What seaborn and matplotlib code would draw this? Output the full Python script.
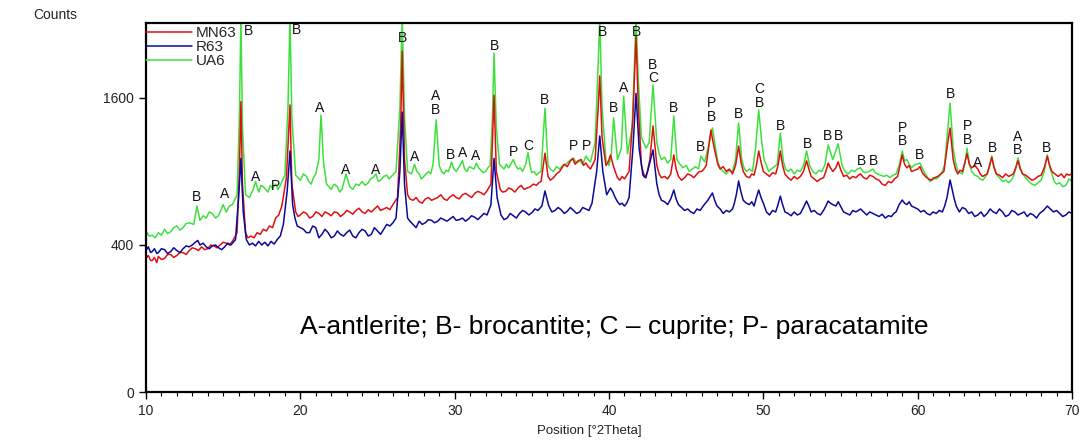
import numpy as np
import pandas as pd
import matplotlib
matplotlib.use("Agg")
import matplotlib.pyplot as plt
import seaborn as sns

# ---------------- data (2Theta, counts) ----------------
UA6 = [
    (10.0, 480), (10.2, 450), (10.4, 455), (10.6, 440), (10.8, 470), (11.0, 455),
    (11.2, 490), (11.4, 465), (11.6, 475), (11.8, 500), (12.0, 510), (12.2, 485),
    (12.4, 500), (12.6, 525), (12.8, 530), (13.1, 520), (13.3, 640), (13.5, 545),
    (13.7, 575), (13.9, 560), (14.1, 600), (14.3, 590), (14.5, 560), (14.7, 575),
    (14.85, 610), (15.0, 650), (15.2, 600), (15.4, 640), (15.6, 650), (15.9, 720),
    (16.05, 1400), (16.15, 2600), (16.25, 1300), (16.45, 720), (16.7, 700),
    (16.95, 760), (17.1, 820), (17.3, 740), (17.45, 790), (17.6, 780), (17.9, 740),
    (18.05, 790), (18.2, 770), (18.4, 800), (18.55, 760), (18.7, 790), (19.0, 870),
    (19.2, 1500), (19.33, 2600), (19.45, 1400), (19.7, 870), (20.0, 830),
    (20.2, 880), (20.4, 860), (20.55, 820), (20.7, 800), (20.85, 850), (21.0, 880),
    (21.2, 1000), (21.34, 1420), (21.5, 980), (21.7, 800), (21.85, 780), (22.0, 760),
    (22.2, 800), (22.4, 780), (22.55, 740), (22.7, 760), (22.96, 880), (23.2, 780),
    (23.4, 760), (23.6, 800), (23.8, 790), (24.0, 820), (24.2, 790), (24.4, 810),
    (24.55, 840), (24.7, 850), (24.9, 880), (25.05, 820), (25.2, 830), (25.4, 860),
    (25.6, 870), (25.75, 840), (25.9, 860), (26.05, 880), (26.2, 900),
    (26.45, 1500), (26.6, 2600), (26.75, 1400), (26.95, 900), (27.2, 880),
    (27.4, 960), (27.55, 900), (27.7, 880), (27.85, 840), (28.0, 860), (28.15, 880),
    (28.3, 900), (28.45, 880), (28.6, 960), (28.8, 1370), (29.0, 950), (29.15, 900),
    (29.3, 880), (29.45, 910), (29.6, 900), (29.8, 980), (29.95, 920), (30.1, 900),
    (30.3, 940), (30.5, 990), (30.65, 920), (30.8, 900), (30.95, 940), (31.1, 930),
    (31.25, 920), (31.4, 970), (31.55, 930), (31.7, 910), (31.85, 890), (32.0, 900),
    (32.15, 930), (32.3, 950), (32.45, 1400), (32.55, 2125), (32.7, 1300),
    (32.9, 960), (33.05, 940), (33.2, 920), (33.35, 960), (33.5, 930), (33.8, 1000),
    (33.95, 950), (34.1, 920), (34.25, 930), (34.4, 900), (34.6, 960), (34.75, 1060),
    (34.9, 940), (35.0, 890), (35.15, 900), (35.3, 870), (35.45, 890), (35.6, 900),
    (35.85, 1490), (36.05, 950), (36.2, 920), (36.4, 900), (36.6, 940), (36.8, 920),
    (37.0, 950), (37.2, 960), (37.45, 990), (37.7, 1010), (37.9, 970), (38.1, 990),
    (38.3, 960), (38.5, 1030), (38.65, 1000), (38.8, 980), (39.1, 1150),
    (39.3, 2000), (39.4, 2600), (39.55, 1500), (39.8, 1000), (40.0, 950),
    (40.15, 1050), (40.3, 1390), (40.55, 1000), (40.8, 1100), (40.95, 1620),
    (41.2, 1050), (41.5, 1300), (41.65, 2000), (41.75, 2600), (41.9, 1800),
    (42.1, 1200), (42.25, 1150), (42.4, 1100), (42.6, 1150), (42.85, 1745),
    (43.1, 1150), (43.25, 1050), (43.4, 1000), (43.6, 1020), (43.8, 970),
    (44.0, 1000), (44.2, 1410), (44.4, 1000), (44.6, 960), (44.8, 930), (45.0, 950),
    (45.2, 900), (45.4, 920), (45.6, 940), (45.8, 920), (45.95, 1030), (46.2, 980),
    (46.5, 1150), (46.7, 1290), (46.9, 1100), (47.05, 980), (47.2, 930),
    (47.4, 900), (47.6, 880), (47.8, 910), (48.0, 900), (48.2, 1000), (48.4, 1340),
    (48.6, 1000), (48.75, 930), (48.9, 900), (49.1, 920), (49.3, 900), (49.5, 1100),
    (49.7, 1472), (49.9, 1150), (50.05, 1000), (50.2, 950), (50.35, 900),
    (50.5, 920), (50.7, 940), (50.9, 960), (51.1, 1240), (51.3, 980), (51.45, 920),
    (51.6, 900), (51.8, 920), (52.0, 880), (52.2, 910), (52.4, 900), (52.6, 950),
    (52.8, 1075), (53.0, 950), (53.2, 900), (53.4, 880), (53.6, 910), (53.8, 900),
    (54.0, 960), (54.2, 1130), (54.5, 1000), (54.85, 1140), (55.1, 950),
    (55.3, 900), (55.5, 880), (55.7, 910), (55.9, 900), (56.1, 920), (56.3, 930),
    (56.45, 900), (56.6, 890), (56.85, 900), (57.1, 920), (57.25, 890), (57.4, 880),
    (57.6, 870), (57.8, 860), (58.0, 870), (58.2, 850), (58.4, 870), (58.6, 880),
    (58.8, 950), (59.0, 1075), (59.15, 990), (59.3, 1000), (59.45, 960),
    (59.6, 930), (59.75, 950), (59.9, 960), (60.15, 970), (60.4, 900), (60.6, 860),
    (60.8, 820), (61.0, 850), (61.2, 840), (61.4, 860), (61.6, 900), (61.75, 960),
    (61.9, 1200), (62.1, 1545), (62.3, 1100), (62.45, 980), (62.6, 900),
    (62.75, 890), (62.9, 880), (63.05, 960), (63.2, 1100), (63.35, 960), (63.5, 900),
    (63.7, 870), (63.9, 860), (64.05, 840), (64.2, 830), (64.35, 850), (64.5, 880),
    (64.65, 930), (64.8, 1030), (64.95, 940), (65.1, 880), (65.3, 850), (65.5, 820),
    (65.7, 830), (65.9, 810), (66.05, 830), (66.2, 860), (66.35, 920), (66.5, 1015),
    (66.65, 930), (66.8, 880), (67.0, 850), (67.2, 820), (67.4, 800), (67.6, 790),
    (67.8, 810), (68.0, 830), (68.2, 900), (68.4, 1040), (68.55, 940), (68.7, 880),
    (68.85, 820), (69.0, 800), (69.2, 810), (69.4, 780), (69.6, 790), (69.8, 840),
    (70.0, 820),
]

MN63 = [
    (10.0, 330), (10.15, 345), (10.3, 320), (10.4, 320), (10.55, 335), (10.7, 310),
    (10.8, 340), (11.0, 325), (11.2, 330), (11.4, 350), (11.6, 350), (11.8, 335),
    (12.0, 345), (12.2, 360), (12.4, 360), (12.6, 350), (12.8, 370), (13.0, 385),
    (13.2, 380), (13.4, 370), (13.6, 390), (13.8, 375), (14.0, 380), (14.2, 400),
    (14.4, 395), (14.6, 385), (14.8, 400), (15.0, 415), (15.2, 410), (15.4, 400),
    (15.6, 420), (15.9, 470), (16.05, 900), (16.15, 1560), (16.25, 800),
    (16.45, 470), (16.6, 440), (16.8, 450), (17.0, 440), (17.2, 470), (17.4, 460),
    (17.6, 490), (17.8, 480), (18.0, 510), (18.2, 500), (18.4, 560), (18.6, 580),
    (18.8, 640), (19.1, 850), (19.33, 1525), (19.45, 800), (19.7, 600),
    (19.85, 570), (20.0, 580), (20.2, 600), (20.4, 590), (20.6, 560), (20.8, 570),
    (21.0, 600), (21.2, 590), (21.4, 570), (21.6, 600), (21.8, 590), (22.0, 575),
    (22.2, 600), (22.4, 595), (22.6, 570), (22.8, 585), (23.0, 610), (23.2, 600),
    (23.4, 585), (23.6, 610), (23.8, 625), (24.0, 600), (24.2, 590), (24.4, 615),
    (24.6, 600), (24.8, 620), (25.0, 640), (25.2, 610), (25.4, 620), (25.6, 630),
    (25.8, 615), (26.0, 650), (26.3, 700), (26.5, 1300), (26.6, 2150),
    (26.75, 1000), (26.95, 720), (27.1, 690), (27.3, 680), (27.5, 700), (27.7, 670),
    (27.9, 660), (28.1, 690), (28.3, 700), (28.5, 680), (28.7, 690), (28.9, 700),
    (29.1, 720), (29.3, 690), (29.5, 680), (29.7, 705), (29.9, 720), (30.1, 700),
    (30.3, 690), (30.5, 720), (30.7, 730), (30.9, 715), (31.1, 700), (31.3, 730),
    (31.5, 745), (31.7, 735), (31.9, 720), (32.1, 750), (32.35, 800), (32.55, 1630),
    (32.7, 900), (32.95, 760), (33.1, 740), (33.3, 745), (33.5, 770), (33.7, 760),
    (33.9, 740), (34.1, 770), (34.3, 790), (34.5, 760), (34.7, 770), (34.9, 780),
    (35.1, 800), (35.3, 790), (35.45, 810), (35.6, 820), (35.85, 1055), (36.05, 860),
    (36.2, 830), (36.4, 850), (36.6, 880), (36.8, 900), (36.95, 930), (37.1, 960),
    (37.3, 940), (37.5, 990), (37.65, 1010), (37.8, 960), (38.0, 990), (38.2, 1000),
    (38.35, 950), (38.5, 970), (38.65, 940), (38.8, 920), (39.1, 1000),
    (39.3, 1500), (39.4, 1850), (39.55, 1200), (39.8, 950), (39.95, 980),
    (40.1, 1040), (40.25, 960), (40.4, 900), (40.55, 850), (40.7, 830), (40.85, 860),
    (41.0, 840), (41.15, 870), (41.3, 900), (41.55, 1400), (41.75, 2345),
    (41.9, 1500), (42.1, 950), (42.25, 880), (42.4, 850), (42.65, 1000),
    (42.85, 1310), (43.1, 950), (43.25, 880), (43.4, 850), (43.6, 860), (43.8, 840),
    (44.0, 880), (44.2, 1040), (44.35, 920), (44.5, 860), (44.7, 830), (44.9, 850),
    (45.1, 880), (45.3, 870), (45.5, 850), (45.7, 880), (45.85, 900), (46.0, 900),
    (46.15, 920), (46.3, 950), (46.45, 1100), (46.6, 1270), (46.75, 1150),
    (46.9, 1050), (47.05, 960), (47.2, 920), (47.4, 940), (47.6, 900), (47.8, 920),
    (48.0, 880), (48.2, 950), (48.4, 1120), (48.55, 980), (48.7, 900), (48.9, 860),
    (49.1, 850), (49.25, 880), (49.4, 870), (49.55, 950), (49.7, 1075), (49.85, 980),
    (50.0, 900), (50.2, 880), (50.4, 860), (50.6, 890), (50.8, 880), (50.95, 950),
    (51.1, 1075), (51.25, 950), (51.4, 880), (51.6, 850), (51.8, 830), (52.0, 860),
    (52.2, 840), (52.4, 860), (52.6, 900), (52.8, 990), (52.95, 920), (53.1, 860),
    (53.3, 840), (53.5, 820), (53.7, 840), (53.9, 850), (54.05, 900), (54.2, 970),
    (54.35, 930), (54.5, 900), (54.7, 930), (54.85, 980), (55.0, 920), (55.2, 860),
    (55.4, 870), (55.6, 840), (55.8, 860), (56.0, 850), (56.15, 870), (56.3, 880),
    (56.5, 850), (56.7, 840), (56.9, 870), (57.1, 860), (57.3, 840), (57.5, 830),
    (57.7, 800), (57.9, 790), (58.1, 820), (58.3, 810), (58.5, 840), (58.7, 860),
    (58.85, 950), (59.0, 1040), (59.15, 960), (59.3, 930), (59.45, 950), (59.6, 900),
    (59.8, 910), (60.0, 920), (60.15, 940), (60.3, 890), (60.5, 860), (60.7, 840),
    (60.9, 830), (61.1, 850), (61.3, 860), (61.5, 880), (61.7, 900), (61.95, 1150),
    (62.1, 1290), (62.3, 1000), (62.45, 920), (62.6, 880), (62.75, 910),
    (62.9, 900), (63.05, 970), (63.2, 1050), (63.35, 960), (63.5, 930), (63.7, 950),
    (63.9, 920), (64.05, 880), (64.2, 860), (64.35, 870), (64.5, 880), (64.65, 950),
    (64.8, 1020), (64.95, 930), (65.1, 880), (65.3, 870), (65.5, 850), (65.7, 880),
    (65.9, 860), (66.05, 870), (66.2, 880), (66.35, 930), (66.5, 990), (66.65, 920),
    (66.8, 880), (67.0, 870), (67.2, 850), (67.4, 830), (67.6, 840), (67.8, 860),
    (68.0, 870), (68.2, 930), (68.4, 1030), (68.55, 950), (68.7, 900), (68.9, 880),
    (69.1, 860), (69.3, 880), (69.5, 850), (69.65, 880), (69.8, 870), (70.0, 880),
]

R63 = [
    (10.0, 370), (10.15, 390), (10.3, 360), (10.4, 365), (10.55, 380), (10.7, 355),
    (10.8, 360), (11.0, 380), (11.2, 375), (11.4, 355), (11.6, 365), (11.8, 385),
    (12.0, 370), (12.2, 360), (12.4, 380), (12.6, 395), (12.8, 390), (13.0, 400),
    (13.2, 415), (13.35, 425), (13.5, 400), (13.7, 410), (13.9, 390), (14.1, 380),
    (14.3, 395), (14.5, 400), (14.7, 385), (14.9, 375), (15.1, 390), (15.3, 410),
    (15.5, 400), (15.8, 430), (16.0, 700), (16.15, 1010), (16.3, 600), (16.5, 430),
    (16.7, 400), (16.9, 410), (17.1, 395), (17.3, 420), (17.5, 400), (17.7, 415),
    (17.9, 395), (18.1, 420), (18.3, 405), (18.5, 430), (18.7, 450), (18.9, 520),
    (19.15, 750), (19.33, 1075), (19.5, 650), (19.65, 560), (19.8, 510),
    (20.0, 500), (20.2, 490), (20.4, 470), (20.6, 470), (20.8, 510), (21.0, 500),
    (21.2, 440), (21.4, 460), (21.6, 490), (21.8, 470), (22.0, 440), (22.2, 450),
    (22.4, 480), (22.6, 460), (22.8, 450), (23.0, 470), (23.2, 485), (23.4, 450),
    (23.6, 440), (23.8, 470), (24.0, 490), (24.2, 480), (24.4, 450), (24.6, 460),
    (24.8, 500), (25.0, 480), (25.2, 460), (25.4, 490), (25.6, 520), (25.8, 510),
    (26.0, 530), (26.2, 560), (26.45, 900), (26.6, 1450), (26.75, 800),
    (26.95, 560), (27.1, 540), (27.3, 520), (27.5, 500), (27.7, 540), (27.9, 520),
    (28.1, 530), (28.3, 550), (28.5, 545), (28.7, 530), (28.9, 540), (29.1, 560),
    (29.3, 550), (29.5, 540), (29.7, 555), (29.9, 570), (30.1, 545), (30.3, 550),
    (30.5, 560), (30.7, 540), (30.9, 555), (31.1, 575), (31.3, 565), (31.5, 550),
    (31.7, 570), (31.9, 590), (32.1, 580), (32.35, 650), (32.55, 1010),
    (32.75, 700), (33.0, 580), (33.2, 550), (33.4, 560), (33.6, 590), (33.8, 575),
    (34.0, 560), (34.2, 590), (34.4, 610), (34.6, 600), (34.8, 580), (35.0, 595),
    (35.2, 620), (35.4, 610), (35.65, 640), (35.85, 748), (36.1, 640), (36.3, 600),
    (36.5, 610), (36.7, 630), (36.9, 615), (37.1, 590), (37.3, 605), (37.5, 630),
    (37.7, 610), (37.9, 590), (38.1, 600), (38.3, 630), (38.5, 620), (38.7, 610),
    (38.9, 660), (39.2, 900), (39.4, 1213), (39.6, 900), (39.85, 720), (40.1, 770),
    (40.25, 740), (40.4, 700), (40.55, 670), (40.7, 650), (40.85, 660), (41.0, 640),
    (41.15, 660), (41.3, 700), (41.55, 1100), (41.75, 1650), (41.95, 1100),
    (42.2, 870), (42.35, 850), (42.5, 900), (42.85, 1084), (43.1, 800), (43.25, 720),
    (43.4, 680), (43.6, 670), (43.8, 650), (44.0, 690), (44.2, 755), (44.35, 690),
    (44.5, 650), (44.7, 630), (44.9, 610), (45.1, 620), (45.3, 600), (45.5, 590),
    (45.7, 620), (45.9, 610), (46.1, 640), (46.4, 680), (46.7, 733), (46.85, 680),
    (47.0, 640), (47.2, 620), (47.4, 590), (47.6, 610), (47.8, 600), (48.0, 620),
    (48.1, 650), (48.25, 720), (48.4, 824), (48.55, 740), (48.7, 680), (48.9, 660),
    (49.1, 650), (49.25, 670), (49.4, 640), (49.55, 700), (49.7, 755), (49.85, 700),
    (50.0, 660), (50.2, 600), (50.4, 580), (50.6, 610), (50.8, 600), (50.95, 650),
    (51.1, 710), (51.25, 650), (51.4, 600), (51.6, 590), (51.8, 575), (52.0, 600),
    (52.2, 580), (52.4, 590), (52.6, 630), (52.8, 675), (52.95, 640), (53.1, 600),
    (53.3, 610), (53.5, 590), (53.7, 580), (53.9, 610), (54.05, 640), (54.2, 675),
    (54.35, 660), (54.5, 650), (54.7, 640), (54.85, 670), (55.0, 640), (55.2, 600),
    (55.4, 590), (55.6, 580), (55.8, 610), (56.0, 600), (56.15, 610), (56.3, 620),
    (56.5, 600), (56.7, 580), (56.9, 600), (57.1, 590), (57.3, 580), (57.5, 570),
    (57.7, 585), (57.9, 560), (58.1, 575), (58.3, 570), (58.45, 590), (58.6, 600),
    (58.8, 650), (59.0, 682), (59.15, 660), (59.3, 650), (59.45, 670), (59.6, 640),
    (59.8, 630), (60.0, 620), (60.2, 600), (60.4, 610), (60.6, 590), (60.8, 580),
    (61.0, 600), (61.2, 590), (61.4, 610), (61.6, 600), (61.75, 640), (61.9, 700),
    (62.1, 832), (62.35, 700), (62.5, 640), (62.7, 600), (62.9, 630), (63.1, 620),
    (63.3, 590), (63.5, 600), (63.7, 570), (63.9, 580), (64.1, 600), (64.3, 570),
    (64.5, 590), (64.7, 620), (64.9, 600), (65.1, 590), (65.3, 620), (65.5, 600),
    (65.7, 570), (65.9, 580), (66.1, 610), (66.3, 600), (66.5, 580), (66.7, 590),
    (66.9, 600), (67.1, 570), (67.3, 590), (67.5, 580), (67.7, 560), (67.9, 590),
    (68.15, 610), (68.4, 640), (68.6, 620), (68.8, 600), (69.0, 610), (69.2, 590),
    (69.4, 570), (69.6, 580), (69.8, 600), (70.0, 590),
]

# phase labels: (2Theta, counts, text)
peak_labels = [
    (13.30, 704, "B"), (15.12, 726, "A"), (17.13, 856, "A"), (18.42, 785, "P"),
    (16.61, 2412, "B"), (19.72, 2426, "B"), (21.27, 1493, "A"), (22.96, 912, "A"),
    (24.90, 912, "A"), (26.65, 2320, "B"), (27.43, 1022, "A"), (28.79, 1546, "A\nB"),
    (29.76, 1040, "B"), (30.54, 1057, "A"), (31.38, 1031, "A"), (32.55, 2216, "B"),
    (33.78, 1066, "P"), (34.75, 1120, "C"), (35.85, 1578, "B"), (37.67, 1120, "P"),
    (38.51, 1120, "P"), (39.61, 2399, "B"), (40.32, 1493, "B"), (40.97, 1711, "A"),
    (41.75, 2399, "B"), (42.85, 1896, "B\nC"), (44.21, 1493, "B"), (45.96, 1111, "B"),
    (46.67, 1472, "P\nB"), (48.41, 1431, "B"), (49.72, 1622, "C\nB"), (51.08, 1310, "B"),
    (52.83, 1139, "B"), (54.13, 1213, "B"), (54.84, 1213, "B"), (56.33, 988, "B"),
    (57.11, 988, "B"), (58.99, 1223, "P\nB"), (60.15, 1040, "B"), (62.10, 1644, "B"),
    (63.20, 1242, "P\nB"), (63.91, 971, "A"), (64.82, 1102, "B"), (66.50, 1139, "A\nB"),
    (68.38, 1102, "B"),
]

series_names = ["MN63", "R63", "UA6"]
series_colors = {"MN63": "#e01010", "R63": "#0a0a9a", "UA6": "#3ee03e"}
x_ticks = [10, 20, 30, 40, 50, 60, 70]
y_ticks = [0, 400, 1600]
legend_text = "A-antlerite; B- brocantite; C \u2013 cuprite; P- paracatamite"

# ---------------- build long-form table ----------------
frames = []
for name, pts in (("MN63", MN63), ("R63", R63), ("UA6", UA6)):
    arr = np.array(pts, dtype=float)
    frames.append(pd.DataFrame({"theta": arr[:, 0], "counts": arr[:, 1], "sample": name}))
df = pd.concat(frames, ignore_index=True)

sns.set_theme(style="white")
plt.rcParams["font.family"] = ["Liberation Sans", "DejaVu Sans"]

fig = plt.figure(figsize=(10.88, 4.41), dpi=100)
ax = fig.add_axes([146 / 1088, 49 / 441, 926 / 1088, 369 / 441])

handles = {}
for name in ["UA6", "MN63", "R63"]:
    sns.lineplot(data=df[df["sample"] == name], x="theta", y="counts",
                 color=series_colors[name], linewidth=1.1, estimator=None,
                 ax=ax, label=name, legend=False)
    handles[name] = ax.lines[-1]

ax.set_yscale("function", functions=(lambda v: np.sqrt(np.clip(v, 0, None)),
                                     lambda v: np.square(v)))
ax.set_xlim(10, 70)
ax.set_ylim(0, 2520)
ax.set_xticks(x_ticks)
ax.set_xticks(np.arange(10, 71, 1), minor=True)
ax.set_yticks(y_ticks)
ax.set_yticklabels([str(t) for t in y_ticks])
ax.tick_params(axis="both", which="major", direction="out", length=5, width=1,
               labelsize=10, color="black", labelcolor="#222222", bottom=True, left=True)
ax.tick_params(axis="x", which="minor", direction="out", length=3, width=0.8,
               bottom=True, color="black")
for sp in ax.spines.values():
    sp.set_color("black")
    sp.set_linewidth(1.6)
ax.set_xlabel("Position [\u00b02Theta]", fontsize=9.5, labelpad=3, color="#222222")
ax.xaxis.set_label_coords((589 - 146) / 926, -0.09)
ax.set_ylabel("")
fig.text(55 / 1088, 1 - 15 / 441, "Counts", fontsize=10, ha="center", va="center",
         color="#222222")

for x, y, t in peak_labels:
    ax.text(x, y, t, fontsize=10, ha="center", va="center", linespacing=0.92,
            color="#111111")

ax.text(0.506, 0.176, legend_text, transform=ax.transAxes, fontsize=19,
        ha="center", va="center", color="black")

leg = ax.legend([handles[n] for n in series_names], series_names, loc="upper left",
                bbox_to_anchor=(-0.002, 0.995), frameon=False, fontsize=11,
                handlelength=3.0, handletextpad=0.3, borderaxespad=0.0,
                borderpad=0.1, labelspacing=0.0)

fig.savefig("out.png", dpi=100)
